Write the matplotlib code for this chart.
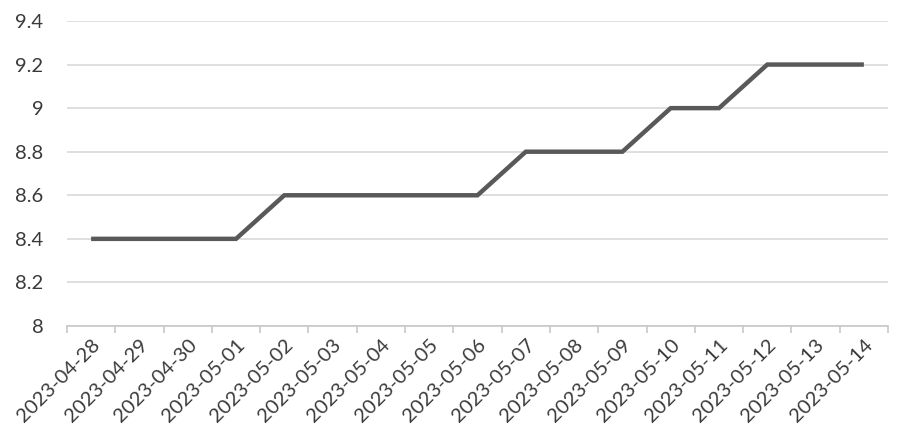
import matplotlib
matplotlib.use("Agg")
import matplotlib.pyplot as plt
import numpy as np

dates = ["2023-04-28", "2023-04-29", "2023-04-30", "2023-05-01", "2023-05-02",
         "2023-05-03", "2023-05-04", "2023-05-05", "2023-05-06", "2023-05-07",
         "2023-05-08", "2023-05-09", "2023-05-10", "2023-05-11", "2023-05-12",
         "2023-05-13", "2023-05-14"]
values = [8.4, 8.4, 8.4, 8.4, 8.6, 8.6, 8.6, 8.6, 8.6, 8.8, 8.8, 8.8,
          9.0, 9.0, 9.2, 9.2, 9.2]
yticks = [8, 8.2, 8.4, 8.6, 8.8, 9, 9.2, 9.4]
ytick_labels = ["8", "8.2", "8.4", "8.6", "8.8", "9", "9.2", "9.4"]

plt.rcParams['font.family'] = ['Lato', 'DejaVu Sans']

fig = plt.figure(figsize=(9, 4.32), dpi=100)
ax = fig.add_axes([0.0744, 0.2454, 0.9123, 0.706])

x = np.arange(len(dates))
ax.plot(x, values, color="#595959", linewidth=3.2, solid_capstyle="butt",
        solid_joinstyle="miter", zorder=3)

ax.set_xlim(-0.5, len(dates) - 0.5)
ax.set_ylim(8, 9.4)
ax.set_yticks(yticks)
ax.set_yticklabels(ytick_labels, fontsize=14.5, color="#3a3a3a")
ax.grid(axis="y", color="#d9d9d9", linewidth=1.2, zorder=0)
ax.tick_params(axis="y", length=0, pad=17)

ax.set_xticks(x)
ax.set_xticklabels(dates, rotation=45, ha="right", rotation_mode="anchor",
                   fontsize=14.5, color="#3a3a3a")
ax.tick_params(axis="x", which="major", length=0, pad=7)
ax.set_xticks(np.arange(-0.5, len(dates), 1), minor=True)
ax.tick_params(axis="x", which="minor", length=5, width=1.2, color="#c8c8c8")

for s in ["top", "right", "left"]:
    ax.spines[s].set_visible(False)
ax.spines["bottom"].set_color("#c8c8c8")
ax.spines["bottom"].set_linewidth(1.2)

fig.savefig("out.png", dpi=100, facecolor="white")
